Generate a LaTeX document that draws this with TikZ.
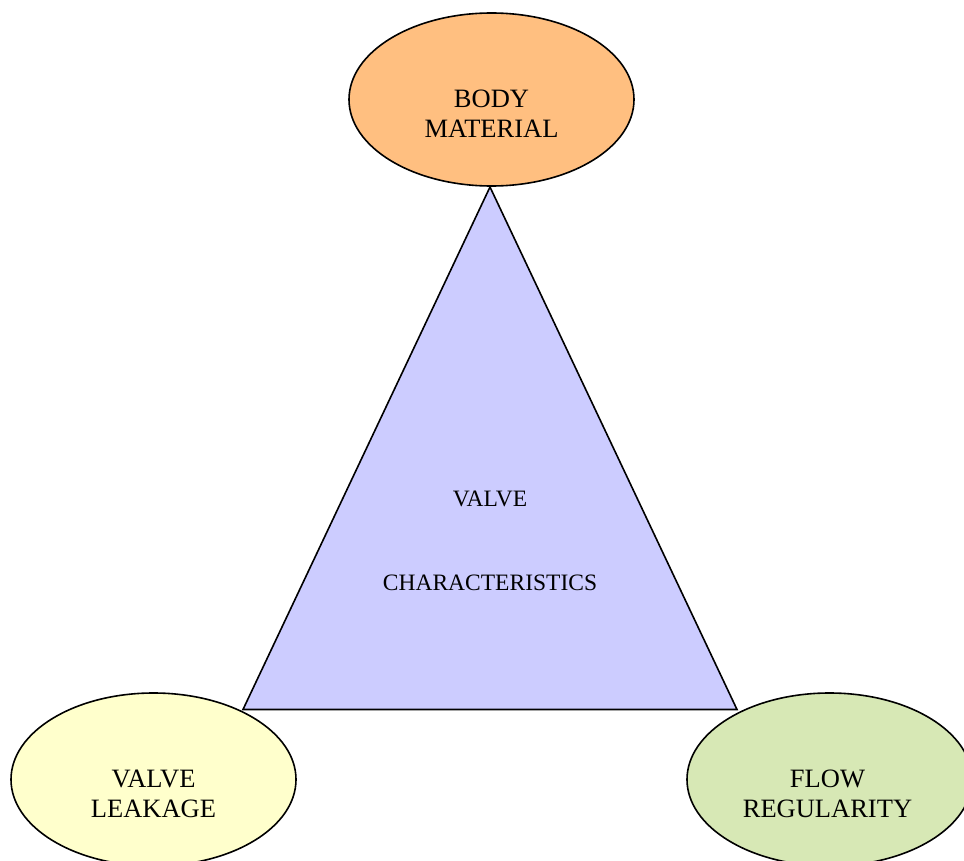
\documentclass[tikz,border=0pt]{standalone}
\usepackage{fontspec}
\setmainfont{Liberation Serif}
\usetikzlibrary{shapes.geometric}
\definecolor{orangefill}{RGB}{255,191,128}
\definecolor{yellowfill}{RGB}{255,255,204}
\definecolor{greenfill}{RGB}{215,232,181}
\definecolor{violetfill}{RGB}{204,204,255}
\tikzset{
  oval/.style={ellipse, draw=black, line width=1.6pt, minimum width=285pt, minimum height=173pt, inner sep=0pt},
  ovaltext/.style={align=center, font=\fontsize{26.5}{30}\selectfont, inner sep=0pt},
  tri/.style={draw=black, line width=1.6pt, fill=violetfill, line join=miter},
}
\begin{document}
\begin{tikzpicture}[x=1pt,y=-1pt]
\useasboundingbox (0,0) rectangle (964,861);
% triangle
\coordinate (apex) at (490,187);
\coordinate (bl) at (243,709.5);
\coordinate (br) at (737,709.5);
\draw[tri] (apex) -- (bl) -- (br) -- cycle;
\node[align=center, font=\fontsize{23.5}{84}\selectfont, inner sep=0pt] (vc) at (490,541) {VALVE\\CHARACTERISTICS};
% ellipses
\node[oval, fill=orangefill] (body) at (491.5,99.5) {};
\node[ovaltext] (bodyt) at ([yshift=-14pt]body.center) {BODY\\MATERIAL};
\node[oval, fill=yellowfill] (leak) at (153.5,779.5) {};
\node[ovaltext] (leakt) at ([yshift=-14.5pt]leak.center) {VALVE\\LEAKAGE};
\node[oval, fill=greenfill] (flow) at (829.5,779.5) {};
\node[ovaltext] (flowt) at ([xshift=-2pt,yshift=-14.5pt]flow.center) {FLOW\\REGULARITY};
\end{tikzpicture}
\end{document}
